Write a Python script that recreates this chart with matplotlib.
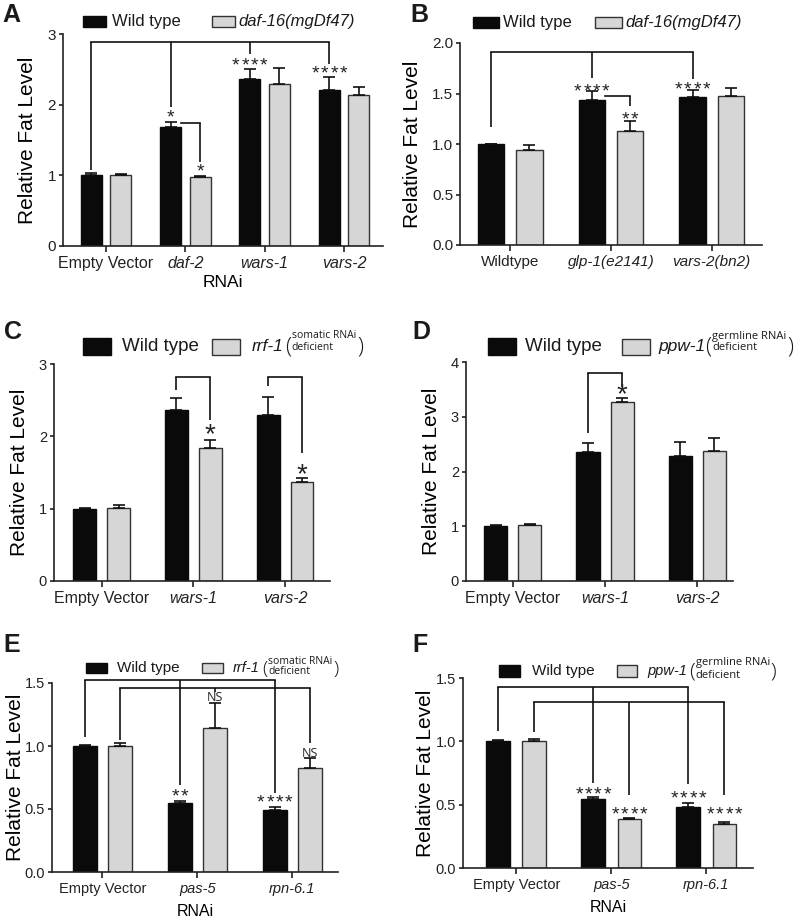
import matplotlib
matplotlib.use("Agg")
import matplotlib.pyplot as plt
import numpy as np
from matplotlib.patches import Rectangle

# ---- data ----
a_groups = ["Empty Vector", "daf-2", "wars-1", "vars-2"]
a_italic = [False, True, True, True]
a_wt = [1.01, 1.69, 2.36, 2.21]
a_wt_err = [0.03, 0.06, 0.15, 0.18]
a_mut = [1.01, 0.98, 2.29, 2.14]
a_mut_err = [0.01, 0.01, 0.23, 0.11]

b_groups = ["Wildtype", "glp-1(e2141)", "vars-2(bn2)"]
b_italic = [False, True, True]
b_wt = [1.00, 1.44, 1.47]
b_wt_err = [0.0, 0.08, 0.06]
b_mut = [0.945, 1.13, 1.48]
b_mut_err = [0.045, 0.10, 0.07]

c_groups = ["Empty Vector", "wars-1", "vars-2"]
c_italic = [False, True, True]
c_wt = [0.99, 2.37, 2.30]
c_wt_err = [0.02, 0.16, 0.24]
c_mut = [1.01, 1.84, 1.37]
c_mut_err = [0.04, 0.11, 0.05]

d_groups = ["Empty Vector", "wars-1", "vars-2"]
d_italic = [False, True, True]
d_wt = [1.00, 2.36, 2.29]
d_wt_err = [0.02, 0.16, 0.25]
d_mut = [1.02, 3.27, 2.38]
d_mut_err = [0.02, 0.08, 0.23]

e_groups = ["Empty Vector", "pas-5", "rpn-6.1"]
e_italic = [False, True, True]
e_wt = [1.00, 0.545, 0.49]
e_wt_err = [0.01, 0.015, 0.025]
e_mut = [1.00, 1.14, 0.825]
e_mut_err = [0.02, 0.20, 0.08]

f_groups = ["Empty Vector", "pas-5", "rpn-6.1"]
f_italic = [False, True, True]
f_wt = [1.00, 0.545, 0.485]
f_wt_err = [0.01, 0.015, 0.03]
f_mut = [1.00, 0.39, 0.345]
f_mut_err = [0.02, 0.005, 0.02]

# significance: (bracket height, [(group, series, leg bottom)]) ; bottom None = start at bar edge
a_brackets = [(2.88, [(0, 0, 1.07), (1, 0, 1.97), (2, 0, 2.72), (3, 0, 2.58)]),
              (1.74, [(1, 0, None), (1, 1, 1.19)])]
a_stars = [(1, 0, 1.87, 1), (1, 1, 1.11, 1), (2, 0, 2.61, 4), (3, 0, 2.49, 4)]

b_brackets = [(1.91, [(0, 0, 1.17), (1, 0, 1.65), (2, 0, 1.64)]),
              (1.48, [(1, 0, None), (1, 1, 1.38)])]
b_stars = [(1, 0, 1.56, 4), (2, 0, 1.58, 4), (1, 1, 1.28, 2)]

c_brackets = [(2.82, [(1, 0, 2.64), (1, 1, 2.23)]),
              (2.82, [(2, 0, 2.69), (2, 1, 1.77)])]
c_stars = [(1, 1, 2.09, 1), (2, 1, 1.535, 1)]

d_brackets = [(3.80, [(1, 0, 2.71), (1, 1, 3.55)])]
d_stars = [(1, 1, 3.50, 1)]

e_brackets = [(1.52, [(0, 0, 1.07), (1, 0, 0.69), (2, 0, 0.63)]),
              (1.46, [(0, 1, 1.05), (1, 1, 1.43), (2, 1, 1.02)])]
e_stars = [(1, 0, 0.63, 2), (2, 0, 0.58, 4)]
e_ns = [(1, 1, 1.39), (2, 1, 0.95)]

f_brackets = [(1.43, [(0, 0, 1.08), (1, 0, 0.67), (2, 0, 0.66)]),
              (1.31, [(0, 1, 1.07), (1, 1, 0.58), (2, 1, 0.58)])]
f_stars = [(1, 0, 0.61, 4), (1, 1, 0.45, 4), (2, 0, 0.58, 4), (2, 1, 0.45, 4)]

BLACK = "#0a0a0a"
GRAY = "#d6d6d6"
EDGE = "#333333"
W, H = 800, 918

plt.rcParams["font.family"] = ["Liberation Sans", "DejaVu Sans"]
plt.rcParams["text.color"] = "#1a1a1a"


def fx(px):
    return px / W


def fy(py):
    return 1 - py / H


def bar_x(g, s, off):
    return g - off if s == 0 else g + off


def panel(fig, box, xlim, ymax, yticks, yfmt, groups, italic, wt, wt_err, mut, mut_err,
          width, off, xfs, yfs, ylabel_x, xlabel=None, xlabelpad=4):
    left, top, right, bottom = box
    ax = fig.add_axes([fx(left), fy(bottom), (right - left) / W, (bottom - top) / H])
    x = np.arange(len(groups))
    ekw = dict(ecolor="#111111", elinewidth=1.2, capsize=4, capthick=1.2)
    ax.bar(x - off, wt, width, color=BLACK, edgecolor=BLACK, linewidth=1,
           yerr=[np.zeros(len(x)), wt_err], error_kw=ekw, zorder=2)
    ax.bar(x + off, mut, width, color=GRAY, edgecolor=EDGE, linewidth=1,
           yerr=[np.zeros(len(x)), mut_err], error_kw=ekw, zorder=2)
    ax.set_xlim(*xlim)
    ax.set_ylim(0, ymax)
    ax.set_yticks(yticks)
    ax.set_yticklabels([yfmt.format(v) for v in yticks], fontsize=yfs)
    ax.set_xticks(x)
    ax.set_xticklabels(groups, fontsize=xfs)
    for lbl, it in zip(ax.get_xticklabels(), italic):
        lbl.set_fontstyle("italic" if it else "normal")
    for s in ["top", "right"]:
        ax.spines[s].set_visible(False)
    for s in ["left", "bottom"]:
        ax.spines[s].set_linewidth(1.2)
        ax.spines[s].set_color("#222222")
    ax.tick_params(axis="y", direction="out", length=3, width=1.2, pad=2, colors="#222222")
    ax.tick_params(axis="x", direction="out", length=4, width=1.2, pad=3, colors="#222222")
    ax.set_ylabel("Relative Fat Level", fontsize=15, va="baseline")
    ax.yaxis.set_label_coords((ylabel_x - left) / (right - left), 0.5)
    if xlabel:
        ax.set_xlabel(xlabel, fontsize=xfs + 1, labelpad=xlabelpad)
    return ax


def brackets(ax, specs, off, width):
    for top, legs in specs:
        xs = []
        for g, s, bot in legs:
            if bot is None:
                xs.append(bar_x(g, s, off) + width / 2)
            else:
                xb = bar_x(g, s, off)
                xs.append(xb)
                ax.plot([xb, xb], [top, bot], color="#111111", lw=1.2, clip_on=False,
                        solid_capstyle="butt", zorder=3)
        ax.plot([min(xs), max(xs)], [top, top], color="#111111", lw=1.2, clip_on=False,
                solid_capstyle="projecting", zorder=3)


def stars(ax, specs, off, fs, step):
    # each asterisk drawn on its own so the spacing matches the figure
    for g, s, y, n in specs:
        for i in range(n):
            dx = (i - (n - 1) / 2) * step
            ax.annotate("*", (bar_x(g, s, off), y), xytext=(dx, -0.45 * fs),
                        textcoords="offset points", ha="center", va="baseline",
                        fontsize=fs, color="#222222", annotation_clip=False)


def ns_marks(ax, specs, off, fs):
    for g, s, y in specs:
        ax.annotate("NS", (bar_x(g, s, off), y), xytext=(0, -0.36 * fs),
                    textcoords="offset points", ha="center", va="baseline",
                    fontsize=fs, color="#222222", family="Open Sans")


def legend(fig, bbox, wt_x, gbox, mut_x, yc, fs, mfs, mut_label, sub=None):
    for (x0, x1, y0, y1), col, ec in [(bbox, BLACK, BLACK), (gbox, GRAY, EDGE)]:
        fig.patches.append(Rectangle((fx(x0), fy(y1)), (x1 - x0) / W, (y1 - y0) / H,
                                     transform=fig.transFigure, facecolor=col,
                                     edgecolor=ec, lw=1))
    fig.text(fx(wt_x), fy(yc), "Wild type", fontsize=fs, va="center")
    t = fig.text(fx(mut_x), fy(yc), mut_label, fontsize=mfs, va="center", style="italic")
    if sub:
        y1, y2, sfs, pfs, line1, gap = sub
        r = fig.canvas.get_renderer()
        x = t.get_window_extent(r).x1 + gap
        lp = fig.text(fx(x), fy(yc + 1), "(", fontsize=pfs, va="center", family="Open Sans",
                      fontweight="light")
        sx = lp.get_window_extent(r).x1 + 1
        s1 = fig.text(fx(sx), fy(y1), line1, fontsize=sfs, va="center", family="Open Sans")
        s2 = fig.text(fx(sx), fy(y2), "deficient", fontsize=sfs, va="center", family="Open Sans")
        rx = max(s1.get_window_extent(r).x1, s2.get_window_extent(r).x1) + 1
        fig.text(fx(rx), fy(yc + 1), ")", fontsize=pfs, va="center", family="Open Sans",
                 fontweight="light")


fig = plt.figure(figsize=(8, 9.18), dpi=100)

# A
axA = panel(fig, (63, 34, 383, 246), (-0.54, 3.49), 3, [0, 1, 2, 3], "{:.0f}", a_groups, a_italic,
            a_wt, a_wt_err, a_mut, a_mut_err, 0.265, 0.186, 11.5, 11, 33, "RNAi", 3)
brackets(axA, a_brackets, 0.186, 0.265)
stars(axA, a_stars, 0.186, 14, 6.7)
legend(fig, (83, 106, 16, 27), 112, (212, 235, 16, 27), 238, 21.5, 12, 12, "daf-16(mgDf47)")

# B
axB = panel(fig, (460, 43, 762, 245), (-0.5, 2.5), 2, [0, 0.5, 1.0, 1.5, 2.0], "{:.1f}", b_groups,
            b_italic, b_wt, b_wt_err, b_mut, b_mut_err, 0.26, 0.19, 11, 11, 418)
brackets(axB, b_brackets, 0.19, 0.26)
stars(axB, b_stars, 0.19, 14, 6.7)
legend(fig, (473, 499, 17, 28), 503, (595, 622, 17, 28), 625, 22.5, 12, 12, "daf-16(mgDf47)")

# C
axC = panel(fig, (54, 364, 330, 581), (-0.52, 2.49), 3, [0, 1, 2, 3], "{:.0f}", c_groups, c_italic,
            c_wt, c_wt_err, c_mut, c_mut_err, 0.25, 0.185, 11.5, 10.5, 25)
brackets(axC, c_brackets, 0.185, 0.25)
stars(axC, c_stars, 0.185, 20, 0)
legend(fig, (83, 111, 338, 355), 122, (212, 240, 339, 355), 252, 346, 13.5, 12.5, "rrf-1",
       (336, 348, 7.5, 16, "somatic RNAi", 1))

# D
axD = panel(fig, (466, 362, 733, 581), (-0.51, 2.39), 4, [0, 1, 2, 3, 4], "{:.0f}", d_groups,
            d_italic, d_wt, d_wt_err, d_mut, d_mut_err, 0.25, 0.185, 11.5, 10.5, 437)
brackets(axD, d_brackets, 0.185, 0.25)
stars(axD, d_stars, 0.185, 20, 0)
legend(fig, (488, 516, 338, 355), 525, (622, 650, 339, 355), 658, 346, 13.5, 12.5, "ppw-1",
       (337, 348, 8, 16, "germline RNAi", 0))

# E
axE = panel(fig, (52, 683, 338, 872), (-0.53, 2.48), 1.5, [0, 0.5, 1.0, 1.5], "{:.1f}", e_groups,
            e_italic, e_wt, e_wt_err, e_mut, e_mut_err, 0.25, 0.185, 10.5, 10.5, 21, "RNAi", 6)
brackets(axE, e_brackets, 0.185, 0.25)
stars(axE, e_stars, 0.185, 14, 6.7)
ns_marks(axE, e_ns, 0.185, 9)
legend(fig, (86, 107, 663, 673), 117, (202, 223, 663, 673), 233, 668, 11, 10.5, "rrf-1",
       (661, 672, 7.5, 14, "somatic RNAi", 2))

# F
axF = panel(fig, (463, 678, 753, 868), (-0.56, 2.49), 1.5, [0, 0.5, 1.0, 1.5], "{:.1f}", f_groups,
            f_italic, f_wt, f_wt_err, f_mut, f_mut_err, 0.25, 0.19, 10.5, 10.5, 431, "RNAi", 6)
brackets(axF, f_brackets, 0.19, 0.25)
stars(axF, f_stars, 0.19, 14, 6.7)
legend(fig, (499, 520, 665, 677), 532, (617, 637, 665, 677), 647, 671, 11, 10.5, "ppw-1",
       (663, 676, 8, 15, "germline RNAi", 2))

# panel letters
for letter, px, py in [("A", 2, 22), ("B", 410, 22), ("C", 4, 339), ("D", 412, 339),
                       ("E", 3, 652), ("F", 412, 652)]:
    fig.text(fx(px), fy(py), letter, fontsize=18, fontweight="bold", va="baseline")

fig.savefig("out.png", dpi=100)
